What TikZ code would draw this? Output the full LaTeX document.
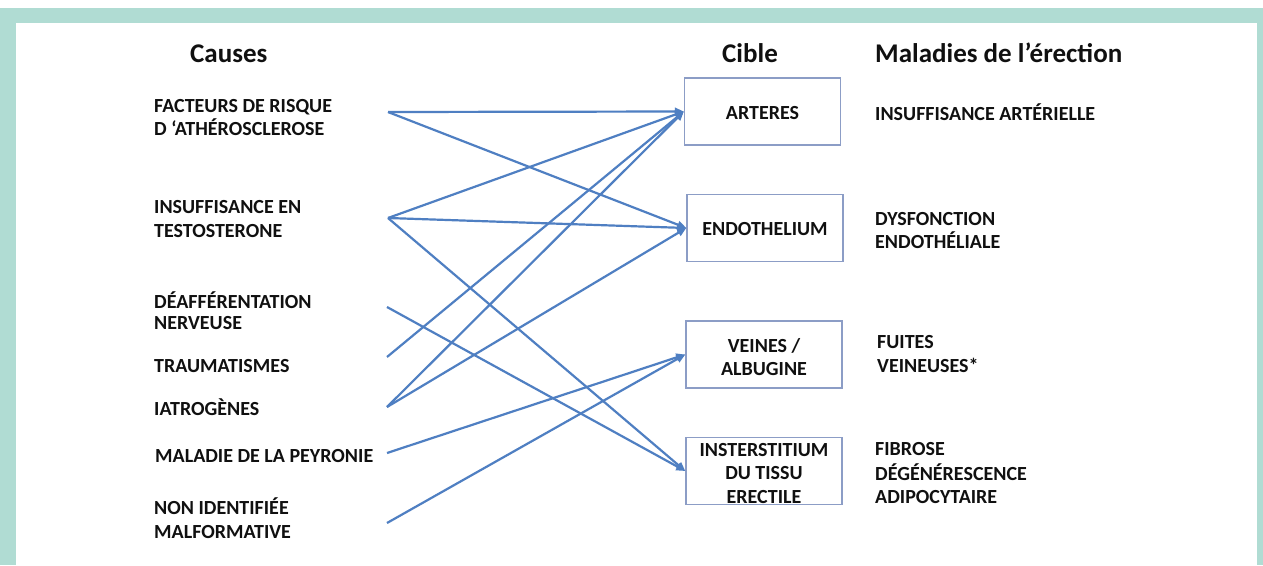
\documentclass[tikz,border=0pt]{standalone}
\usepackage{fontspec}
\setmainfont{Carlito}
\usetikzlibrary{arrows.meta}
\definecolor{framecol}{HTML}{B0DCD3}
\definecolor{lineblue}{HTML}{4F7FC2}
\definecolor{boxedge}{HTML}{8C9DC6}
\definecolor{txt}{HTML}{101010}
\begin{document}
\begin{tikzpicture}[x=1pt,y=-1pt,
  lbl/.style={font=\bfseries\fontsize{20}{23}\selectfont, anchor=base west, inner sep=0pt, text=txt},
  ttl/.style={font=\bfseries\fontsize{27}{32}\selectfont, anchor=base west, inner sep=0pt, text=txt},
  target/.style={draw=boxedge, line width=1.4pt, minimum width=156pt, minimum height=67pt, inner sep=0pt},
  boxtxt/.style={inner sep=0pt, align=center, text=txt, font=\bfseries\fontsize{20}{23.5}\selectfont},
  conn/.style={draw=lineblue, line width=2.2pt, -{Triangle[length=9pt,width=7.5pt]}}
]
\useasboundingbox (0,0) rectangle (1263,565);
\fill[framecol] (0,8) rectangle (1263,565);
\fill[white] (16,23) rectangle (1257,565);

% titles
\node[ttl] (tcauses) at (190,62) {Causes};
\node[ttl] (tcible) at (722,62) {Cible};
\node[ttl] (tmal) at (875,62) {Maladies de l’érection};

% causes
\node[lbl] (c1a) at (154,112) {FACTEURS DE RISQUE};
\node[lbl] (c1b) at (154,135) {D ‘ATHÉROSCLEROSE};
\node[lbl] (c2a) at (154,213) {INSUFFISANCE EN};
\node[lbl] (c2b) at (154,237) {TESTOSTERONE};
\node[lbl] (c3a) at (154,308) {DÉAFFÉRENTATION};
\node[lbl] (c3b) at (154,329) {NERVEUSE};
\node[lbl] (c4) at (154,372) {TRAUMATISMES};
\node[lbl] (c5) at (154,415) {IATROGÈNES};
\node[lbl] (c6) at (155,462) {MALADIE DE LA PEYRONIE};
\node[lbl] (c7a) at (154,514) {NON IDENTIFIÉE};
\node[lbl] (c7b) at (154,538) {MALFORMATIVE};

% connector starts
\coordinate (s1) at (388,112);
\coordinate (s2) at (388,218);
\coordinate (s3) at (387,307);
\coordinate (s4) at (387,357);
\coordinate (s5) at (387,407);
\coordinate (s6) at (387,453);
\coordinate (s7) at (387,523);

% targets
\node[target] (art) at (762.5,111.5) {};
\node[target] (endo) at (765,228) {};
\node[target] (vein) at (764,354.5) {};
\node[target] (inter) at (764,471) {};
\node[boxtxt] (artt) at ([yshift=-2pt]art.center) {ARTERES};
\node[boxtxt] (endot) at ([yshift=-1.5pt]endo.center) {ENDOTHELIUM};
\node[boxtxt] (veint) at ([yshift=-2.5pt]vein.center) {VEINES /\\ALBUGINE};
\node[boxtxt] (intert) at ([yshift=-2.5pt]inter.center) {INSTERSTITIUM\\DU TISSU\\ERECTILE};

% diseases
\node[lbl] (d1) at (875,120) {INSUFFISANCE ARTÉRIELLE};
\node[lbl] (d2a) at (875,225) {DYSFONCTION};
\node[lbl] (d2b) at (875,248) {ENDOTHÉLIALE};
\node[lbl] (d3a) at (877,348) {FUITES};
\node[lbl] (d3b) at (877,372) {VEINEUSES*};
\node[lbl] (d4a) at (875,455) {FIBROSE};
\node[lbl] (d4b) at (875,480) {DÉGÉNÉRESCENCE};
\node[lbl] (d4c) at (875,503) {ADIPOCYTAIRE};

% connectors
\draw[conn] (s1) -- (art.west);
\draw[conn] (s1) -- (endo.west);
\draw[conn] (s2) -- (art.west);
\draw[conn] (s2) -- (endo.west);
\draw[conn] (s2) -- (inter.west);
\draw[conn] (s3) -- (inter.west);
\draw[conn] (s4) -- (art.west);
\draw[conn] (s5) -- (art.west);
\draw[conn] (s5) -- (endo.west);
\draw[conn] (s6) -- (vein.west);
\draw[conn] (s7) -- (vein.west);
\end{tikzpicture}
\end{document}
